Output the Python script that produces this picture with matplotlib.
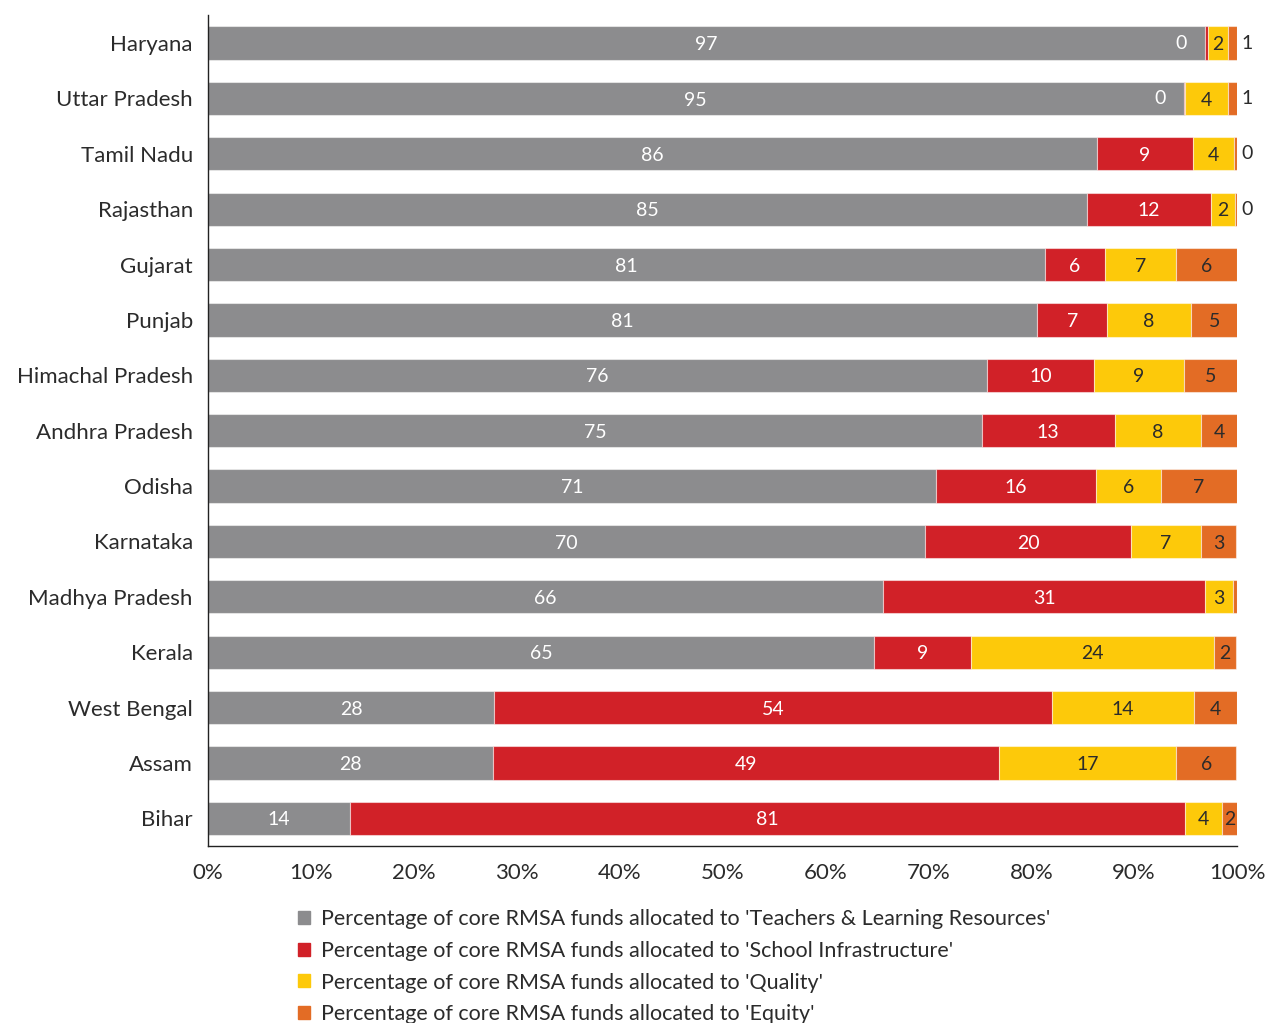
import matplotlib
matplotlib.use('Agg')
import matplotlib.pyplot as plt
from matplotlib.patches import Patch

plt.rcParams['font.family'] = ['Lato', 'DejaVu Sans']

states = ['Haryana', 'Uttar Pradesh', 'Tamil Nadu', 'Rajasthan', 'Gujarat', 'Punjab',
          'Himachal Pradesh', 'Andhra Pradesh', 'Odisha', 'Karnataka', 'Madhya Pradesh',
          'Kerala', 'West Bengal', 'Assam', 'Bihar']
teachers = [96.9, 94.8, 86.4, 85.4, 81.3, 80.6, 75.7, 75.2, 70.7, 69.7, 65.6, 64.7, 27.8, 27.7, 13.8]
infra = [0.3, 0.1, 9.3, 12.1, 5.9, 6.8, 10.4, 12.9, 15.6, 20.0, 31.3, 9.4, 54.2, 49.2, 81.1]
quality = [1.9, 4.2, 4.0, 2.3, 6.9, 8.1, 8.7, 8.4, 6.3, 6.8, 2.7, 23.7, 13.8, 17.2, 3.6]
equity = [0.9, 1.0, 0.3, 0.2, 5.9, 4.6, 5.3, 3.6, 7.4, 3.4, 0.4, 2.1, 4.2, 5.8, 1.6]
hidden = [('Madhya Pradesh', 3)]  # label not shown in the original

series = [teachers, infra, quality, equity]
names = ["Percentage of core RMSA funds allocated to 'Teachers & Learning Resources'",
         "Percentage of core RMSA funds allocated to 'School Infrastructure'",
         "Percentage of core RMSA funds allocated to 'Quality'",
         "Percentage of core RMSA funds allocated to 'Equity'"]
colors = ['#8c8c8e', '#d12128', '#fdc90a', '#e36c25']
txt_colors = ['white', 'white', '#2b2b2b', '#2b2b2b']
dark = '#2b2b2b'

fig = plt.figure(figsize=(12.74, 10.23), dpi=100)
ax = fig.add_axes([0.1633, 0.173, 0.8077, 0.812])

y = list(range(len(states)))
left = [0.0] * len(states)
for k, vals in enumerate(series):
    ax.barh(y, vals, left=left, height=0.6, color=colors[k],
            edgecolor=(1, 1, 1, 0.5), linewidth=0.8)
    for i, v in enumerate(vals):
        if (states[i], k) not in hidden:
            lab = str(round(v))
            if v < 1.5 and k == 3:
                ax.text(100.4, i, lab, ha='left', va='center', fontsize=14, color=dark)
            elif v < 1.5:
                # zero labels sit just inside the previous segment
                ax.text(left[i] - 2.3, i, lab, ha='center', va='center', fontsize=14,
                        color=txt_colors[k - 1])
            else:
                ax.text(left[i] + v / 2, i + 0.03, lab, ha='center', va='center',
                        fontsize=14, color=txt_colors[k])
        left[i] += v

ax.set_xlim(0, 100)
ax.set_ylim(14.5, -0.5)
ax.set_yticks(y)
ax.set_yticklabels(states, fontsize=16, color=dark)
ax.set_xticks(range(0, 101, 10))
ax.set_xticklabels([f'{t}%' for t in range(0, 101, 10)], fontsize=16, color=dark)
ax.tick_params(length=0)
ax.tick_params(axis='y', pad=11)
ax.tick_params(axis='x', pad=12)
for s in ['top', 'right']:
    ax.spines[s].set_visible(False)
for s in ['left', 'bottom']:
    ax.spines[s].set_color('#222222')
    ax.spines[s].set_linewidth(1.0)

handles = [Patch(color=c) for c in colors]
fig.legend(handles, names, loc='upper left', bbox_to_anchor=(0.2275, 0.120),
           frameon=False, fontsize=15.5, handlelength=0.55, handleheight=0.55,
           handletextpad=0.5, labelspacing=0.55, labelcolor=dark, borderaxespad=0)

fig.savefig('out.png', dpi=100)
